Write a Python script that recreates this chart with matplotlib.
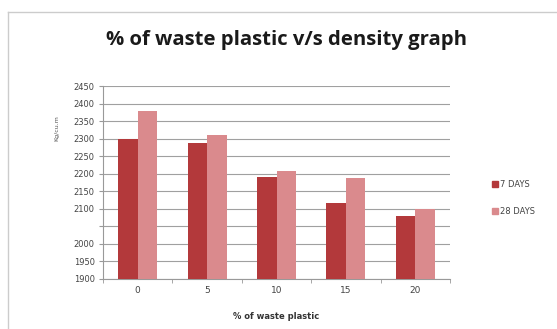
import matplotlib
matplotlib.use("Agg")
import matplotlib.pyplot as plt
import numpy as np
from matplotlib.lines import Line2D

categories = ["0", "5", "10", "15", "20"]
days7 = [2300, 2287, 2192, 2118, 2080]
days28 = [2380, 2310, 2209, 2187, 2100]
series_names = ["7 DAYS", "28 DAYS"]
yticks = list(range(1900, 2451, 50))
ytick_labels = [str(v) if v != 2050 else "" for v in yticks]

W, H = 557, 329
fig = plt.figure(figsize=(W / 100, H / 100), dpi=100)
fig.patch.set_facecolor("white")

ax = fig.add_axes([103 / W, 1 - 279 / H, (450 - 103) / W, (279 - 86) / H])
x = np.arange(len(categories))
bw = 0.28
c7 = "#B3393B"
c28 = "#DA8A8D"
ax.bar(x - bw / 2, days7, width=bw, color=c7, zorder=3, label=series_names[0])
ax.bar(x + bw / 2, days28, width=bw, color=c28, zorder=3, label=series_names[1])

ax.set_ylim(1900, 2450)
ax.set_xlim(-0.5, len(categories) - 0.5)
ax.set_yticks(yticks)
ax.set_yticklabels(ytick_labels, fontsize=6, color="#444444")
ax.set_xticks(x)
ax.set_xticklabels(categories, fontsize=6.5, color="#444444")
ax.tick_params(axis="x", length=0, pad=5)
ax.tick_params(axis="y", length=3, color="#999999", pad=3)
ax.set_xticks(np.arange(-0.5, len(categories), 1), minor=True)
ax.tick_params(axis="x", which="minor", length=3, color="#999999")
ax.grid(axis="y", color="#a0a0a0", linewidth=0.8, zorder=0)
for s in ["top", "right"]:
    ax.spines[s].set_visible(False)
ax.spines["left"].set_color("#999999")
ax.spines["bottom"].set_color("#999999")

ax.set_xlabel("% of waste plastic", fontsize=6, fontweight="bold", color="#333333", labelpad=12)
ax.set_ylabel("Kg/cu.m", fontsize=4.5, color="#555555", labelpad=18)
ax.yaxis.set_label_coords(-0.125, 0.78)

fig.text(286 / W, 1 - 40 / H, "% of waste plastic v/s density graph", ha="center", va="center",
         fontsize=14.6, fontweight="bold", family="Open Sans", color="#1a1a1a")

handles = [Line2D([], [], marker="s", linestyle="", color=c7, markersize=4),
           Line2D([], [], marker="s", linestyle="", color=c28, markersize=4)]
fig.legend(handles, series_names, loc="center left", bbox_to_anchor=(484 / W, 1 - 198 / H),
           frameon=False, fontsize=6, handletextpad=0.2, labelspacing=2.2, handlelength=0.8,
           labelcolor="#444444")

fig.add_artist(Line2D([8 / W, 1], [1 - 12 / H, 1 - 12 / H], color="#cccccc", linewidth=1))
fig.add_artist(Line2D([8 / W, 8 / W], [0, 1 - 12 / H], color="#cccccc", linewidth=1))

fig.savefig("out.png", dpi=100)
